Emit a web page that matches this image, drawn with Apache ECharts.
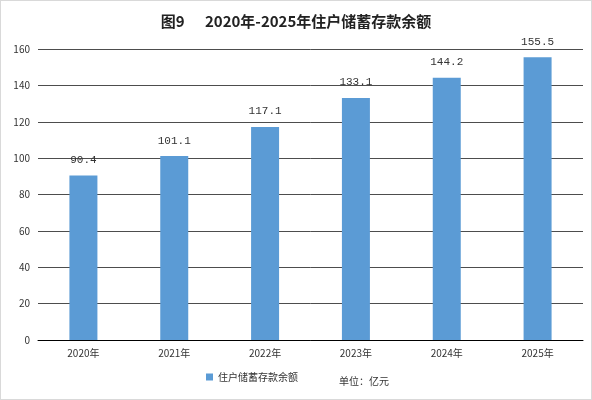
<!DOCTYPE html>
<html><head><meta charset="utf-8">
<script src="https://cdn.jsdelivr.net/npm/echarts@6/dist/echarts.min.js"></script>
<style>html,body{margin:0;padding:0}#c{width:590px;height:398px;border:1px solid #d9d9d9}</style>
</head><body><div id="c"></div>
<script>
var categories = ['2020年','2021年','2022年','2023年','2024年','2025年'];
var values = [90.4, 101.1, 117.1, 133.1, 144.2, 155.5];
var chart = echarts.init(document.getElementById('c'));
var cjk = '"Noto Sans CJK SC", sans-serif';
chart.setOption({
  animation:false,
  title:{text:'图9      2020年-2025年住户储蓄存款余额',left:'center',top:8,
    textStyle:{fontFamily:cjk,fontSize:15,fontWeight:'bold',color:'#222'}},
  grid:{left:37,right:8,top:48,bottom:59},
  legend:{bottom:12,left:200,itemWidth:7,itemHeight:7,icon:'rect',
    textStyle:{fontFamily:cjk,fontSize:10,color:'#333'}},
  graphic:[{type:'text',left:338,bottom:13,style:{text:'单位：亿元',font:'10px "Noto Sans CJK SC"',fill:'#333'}}],
  xAxis:{type:'category',data:categories,axisTick:{show:false},
    axisLine:{lineStyle:{color:'#000'}},
    axisLabel:{fontFamily:cjk,fontSize:10,color:'#333',margin:8}},
  yAxis:{type:'value',min:0,max:160,interval:20,
    axisLabel:{fontFamily:cjk,fontSize:10,color:'#333'},
    splitLine:{lineStyle:{color:'#000',width:0.7}}},
  series:[{name:'住户储蓄存款余额',type:'bar',data:values,barWidth:28,
    itemStyle:{color:'#5B9BD5'},
    label:{show:true,position:'top',fontFamily:'"Liberation Mono", monospace',fontSize:11,color:'#333',distance:10}}]
});
</script></body></html>
